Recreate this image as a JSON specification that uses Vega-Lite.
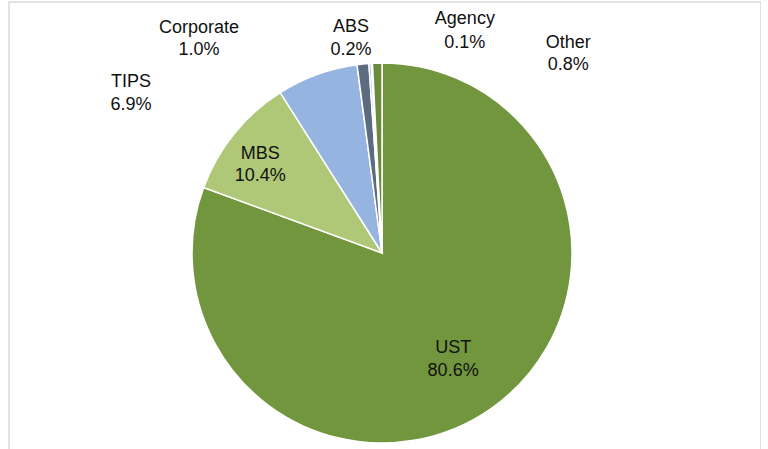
{
  "$schema": "https://vega.github.io/schema/vega-lite/v6.json",
  "width": 752,
  "height": 502,
  "autosize": "none",
  "padding": {"left": 9, "top": 2, "right": 0, "bottom": 0},
  "background": "#ffffff",
  "view": {"stroke": "#D9D9D9", "strokeWidth": 1.5},
  "config": {"text": {"font": "Liberation Sans", "fontSize": 18, "fill": "#111111", "baseline": "alphabetic", "align": "center"}},
  "data": {"values": [
    {"category": "UST", "share": 0.806, "rank": 1},
    {"category": "MBS", "share": 0.104, "rank": 2},
    {"category": "TIPS", "share": 0.069, "rank": 3},
    {"category": "Corporate", "share": 0.010, "rank": 4},
    {"category": "ABS", "share": 0.002, "rank": 5},
    {"category": "Agency", "share": 0.001, "rank": 6},
    {"category": "Other", "share": 0.008, "rank": 7}
  ]},
  "encoding": {
    "theta": {"field": "share", "type": "quantitative", "stack": true},
    "order": {"field": "rank", "type": "quantitative", "sort": "ascending"}
  },
  "layer": [
    {
      "mark": {"type": "arc", "outerRadius": 190, "stroke": "#ffffff", "strokeWidth": 1.5, "xOffset": -3},
      "encoding": {
        "color": {"field": "category", "type": "nominal", "legend": null,
          "scale": {"domain": ["UST", "MBS", "TIPS", "Corporate", "ABS", "Agency", "Other"],
                    "range": ["#71963E", "#AFC878", "#95B4E0", "#5D6B80", "#8DC8E0", "#DDEBF7", "#6A8C3A"]}}
      }
    },
    {"mark": {"type": "text", "radius": 126, "xOffset": -3, "dx": -1, "dy": -3},
     "encoding": {"text": {"condition": {"test": "datum.category === 'UST'", "field": "category", "type": "nominal"}, "value": ""}}},
    {"mark": {"type": "text", "radius": 126, "xOffset": -3, "dx": -1, "dy": 20},
     "encoding": {"text": {"condition": {"test": "datum.category === 'UST'", "field": "share", "type": "quantitative", "format": ".1%"}, "value": ""}}},
    {"mark": {"type": "text", "radius": 150, "xOffset": -3, "dx": -5, "dy": 0},
     "encoding": {"text": {"condition": {"test": "datum.category === 'MBS'", "field": "category", "type": "nominal"}, "value": ""}}},
    {"mark": {"type": "text", "radius": 150, "xOffset": -3, "dx": -5, "dy": 22},
     "encoding": {"text": {"condition": {"test": "datum.category === 'MBS'", "field": "share", "type": "quantitative", "format": ".1%"}, "value": ""}}},
    {"mark": {"type": "text", "radius": 190, "xOffset": -3, "dx": -186, "dy": 13},
     "encoding": {"text": {"condition": {"test": "datum.category === 'TIPS'", "field": "category", "type": "nominal"}, "value": ""}}},
    {"mark": {"type": "text", "radius": 190, "xOffset": -3, "dx": -186, "dy": 36},
     "encoding": {"text": {"condition": {"test": "datum.category === 'TIPS'", "field": "share", "type": "quantitative", "format": ".1%"}, "value": ""}}},
    {"mark": {"type": "text", "radius": 190, "xOffset": -3, "dx": -164, "dy": -31},
     "encoding": {"text": {"condition": {"test": "datum.category === 'Corporate'", "field": "category", "type": "nominal"}, "value": ""}}},
    {"mark": {"type": "text", "radius": 190, "xOffset": -3, "dx": -164, "dy": -9},
     "encoding": {"text": {"condition": {"test": "datum.category === 'Corporate'", "field": "share", "type": "quantitative", "format": ".1%"}, "value": ""}}},
    {"mark": {"type": "text", "radius": 190, "xOffset": -3, "dx": -19, "dy": -31},
     "encoding": {"text": {"condition": {"test": "datum.category === 'ABS'", "field": "category", "type": "nominal"}, "value": ""}}},
    {"mark": {"type": "text", "radius": 190, "xOffset": -3, "dx": -19, "dy": -8},
     "encoding": {"text": {"condition": {"test": "datum.category === 'ABS'", "field": "share", "type": "quantitative", "format": ".1%"}, "value": ""}}},
    {"mark": {"type": "text", "radius": 190, "xOffset": -3, "dx": 93, "dy": -39},
     "encoding": {"text": {"condition": {"test": "datum.category === 'Agency'", "field": "category", "type": "nominal"}, "value": ""}}},
    {"mark": {"type": "text", "radius": 190, "xOffset": -3, "dx": 93, "dy": -15},
     "encoding": {"text": {"condition": {"test": "datum.category === 'Agency'", "field": "share", "type": "quantitative", "format": ".1%"}, "value": ""}}},
    {"mark": {"type": "text", "radius": 190, "xOffset": -3, "dx": 191, "dy": -15},
     "encoding": {"text": {"condition": {"test": "datum.category === 'Other'", "field": "category", "type": "nominal"}, "value": ""}}},
    {"mark": {"type": "text", "radius": 190, "xOffset": -3, "dx": 191, "dy": 7},
     "encoding": {"text": {"condition": {"test": "datum.category === 'Other'", "field": "share", "type": "quantitative", "format": ".1%"}, "value": ""}}}
  ]
}
